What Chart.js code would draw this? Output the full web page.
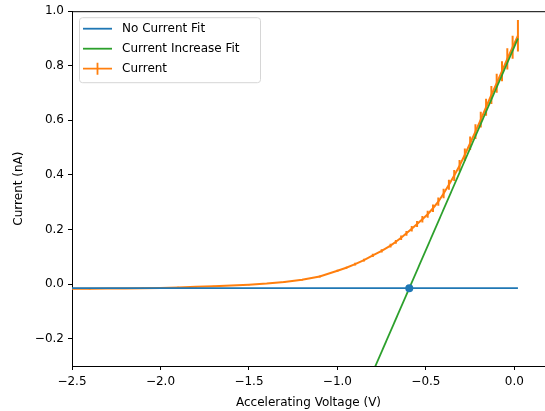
<!DOCTYPE html>
<html>
<head>
<meta charset="utf-8">
<title>Current vs Accelerating Voltage</title>
<script src="https://cdn.jsdelivr.net/npm/chart.js@4.4.0/dist/chart.umd.min.js"></script>
<style>
    html, body { margin: 0; padding: 0; background: #fff; }
    #wrap { width: 545px; height: 411px; }
</style>
</head>
<body>
<div id="wrap"><canvas id="ivChart" width="545" height="411"></canvas></div>
<script>
'use strict';

// Measured current (nA) against accelerating voltage (V), with error bars
const voltage = [
    -2.50, -2.40, -2.30, -2.20, -2.10, -2.00, -1.90, -1.80, -1.70, -1.60,
    -1.50, -1.40, -1.30, -1.20, -1.10, -1.00, -0.95, -0.90, -0.85, -0.80,
    -0.75, -0.70, -0.67, -0.64, -0.61, -0.58, -0.55, -0.52, -0.49, -0.46,
    -0.43, -0.40, -0.37, -0.34, -0.31, -0.28, -0.25, -0.22, -0.19, -0.16,
    -0.13, -0.10, -0.07, -0.04, -0.01, 0.02
];
const current = [
    -0.017, -0.017, -0.016, -0.016, -0.015, -0.014, -0.012, -0.010, -0.008, -0.005,
    -0.002, 0.002, 0.008, 0.016, 0.028, 0.049, 0.060, 0.073, 0.088, 0.105,
    0.122, 0.141, 0.155, 0.170, 0.186, 0.203, 0.220, 0.238, 0.256, 0.278,
    0.302, 0.332, 0.364, 0.398, 0.434, 0.474, 0.516, 0.559, 0.603, 0.648,
    0.693, 0.736, 0.780, 0.825, 0.868, 0.910
];
const currentErr = [
    0.002, 0.002, 0.002, 0.002, 0.002, 0.002, 0.002, 0.002, 0.002, 0.002,
    0.002, 0.002, 0.003, 0.003, 0.004, 0.004, 0.004, 0.005, 0.005, 0.006,
    0.006, 0.007, 0.007, 0.008, 0.009, 0.010, 0.011, 0.012, 0.013, 0.014,
    0.015, 0.017, 0.018, 0.020, 0.021, 0.023, 0.025, 0.027, 0.029, 0.031,
    0.033, 0.035, 0.037, 0.039, 0.042, 0.058
];

// Flat baseline fit and linear fit of the rising part
const noCurrentV = [-2.50, 0.02];
const noCurrentI = [-0.015, -0.015];
const increaseV = [-0.80, 0.02];
const increaseI = [-0.322, 0.900];

// Where the two fits cross
const crossingV = [-0.594];
const crossingI = [-0.015];

const xTicks = [-2.5, -2.0, -1.5, -1.0, -0.5, 0.0];
const yTicks = [-0.2, 0.0, 0.2, 0.4, 0.6, 0.8, 1.0];

const colors = {
    blue: '#1f77b4',
    orange: '#ff7f0e',
    green: '#2ca02c',
    text: '#000000'
};
const fontFamily = '"DejaVu Sans", "Liberation Sans", sans-serif';

function pairs(xs, ys) {
    return xs.map((x, i) => ({ x: x, y: ys[i] }));
}

// Vertical error segments, separated by gaps so the line breaks between them
function errorSegments() {
    const pts = [];
    voltage.forEach((v, i) => {
        pts.push({ x: v, y: current[i] - currentErr[i] });
        pts.push({ x: v, y: current[i] + currentErr[i] });
        pts.push({ x: v, y: null });
    });
    return pts;
}

function tickLabel(value) {
    const v = Math.abs(value) < 1e-9 ? 0 : value;
    return v.toFixed(1).replace('-', '\u2212');
}

/**
 * Top spine and boxed legend in the upper left corner
 */
const frameAndLegend = {
    id: 'frameAndLegend',
    afterDraw(chart) {
        const { ctx, chartArea: a } = chart;
        ctx.save();

        ctx.strokeStyle = '#000';
        ctx.lineWidth = 1;
        ctx.beginPath();
        ctx.moveTo(a.left, a.top + 0.5);
        ctx.lineTo(a.right, a.top + 0.5);
        ctx.stroke();

        const bx = a.left + 7.5, by = a.top + 6.5, bw = 181, bh = 65, r = 3;
        ctx.beginPath();
        ctx.moveTo(bx + r, by);
        ctx.arcTo(bx + bw, by, bx + bw, by + bh, r);
        ctx.arcTo(bx + bw, by + bh, bx, by + bh, r);
        ctx.arcTo(bx, by + bh, bx, by, r);
        ctx.arcTo(bx, by, bx + bw, by, r);
        ctx.closePath();
        ctx.fillStyle = 'rgba(255,255,255,0.8)';
        ctx.fill();
        ctx.strokeStyle = '#d6d6d6';
        ctx.stroke();

        const entries = [
            { label: 'No Current Fit', color: colors.blue, bar: false },
            { label: 'Current Increase Fit', color: colors.green, bar: false },
            { label: 'Current', color: colors.orange, bar: true }
        ];
        ctx.font = '12px ' + fontFamily;
        ctx.textBaseline = 'middle';
        entries.forEach((e, i) => {
            const y = a.top + 17.5 + i * 20;
            const x0 = a.left + 11, x1 = a.left + 40;
            ctx.strokeStyle = e.color;
            ctx.lineWidth = 1.8;
            ctx.beginPath();
            ctx.moveTo(x0, y);
            ctx.lineTo(x1, y);
            if (e.bar) {
                const xm = (x0 + x1) / 2;
                ctx.moveTo(xm, y - 6);
                ctx.lineTo(xm, y + 6);
            }
            ctx.stroke();
            ctx.fillStyle = colors.text;
            ctx.fillText(e.label, a.left + 50, y + 0.5);
        });

        ctx.restore();
    }
};

function initChart() {
    const ctx = document.getElementById('ivChart');

    new Chart(ctx, {
        type: 'line',
        data: {
            datasets: [{
                label: 'Crossing',
                data: pairs(crossingV, crossingI),
                showLine: false,
                pointRadius: 4,
                pointBackgroundColor: colors.blue,
                pointBorderWidth: 0,
                order: 0
            }, {
                label: 'Current Increase Fit',
                data: pairs(increaseV, increaseI),
                borderColor: colors.green,
                borderWidth: 1.8,
                pointRadius: 0,
                order: 1
            }, {
                label: 'No Current Fit',
                data: pairs(noCurrentV, noCurrentI),
                borderColor: colors.blue,
                borderWidth: 1.8,
                pointRadius: 0,
                order: 2
            }, {
                label: 'Current',
                data: pairs(voltage, current),
                borderColor: colors.orange,
                borderWidth: 2,
                pointRadius: 0,
                order: 3
            }, {
                label: 'Current error',
                data: errorSegments(),
                borderColor: colors.orange,
                borderWidth: 2,
                pointRadius: 0,
                spanGaps: false,
                order: 4
            }]
        },
        options: {
            responsive: false,
            animation: false,
            devicePixelRatio: 1,
            layout: {
                autoPadding: false,
                padding: { top: 11, left: 0, right: 0, bottom: 0 }
            },
            plugins: {
                legend: { display: false },
                tooltip: { enabled: false }
            },
            scales: {
                x: {
                    type: 'linear',
                    min: -2.5,
                    max: 0.173,
                    offset: false,
                    afterBuildTicks: s => { s.ticks = xTicks.map(v => ({ value: v })); },
                    afterFit: s => { s.height = 45; },
                    grid: {
                        drawOnChartArea: false,
                        drawTicks: true,
                        tickLength: 4,
                        tickColor: '#000',
                        offset: false
                    },
                    border: { display: true, color: '#000', width: 1 },
                    ticks: {
                        color: colors.text,
                        font: { family: fontFamily, size: 12 },
                        padding: 5,
                        maxRotation: 0,
                        autoSkip: false,
                        callback: tickLabel
                    },
                    title: {
                        display: true,
                        text: 'Accelerating Voltage (V)',
                        color: colors.text,
                        font: { family: fontFamily, size: 12 },
                        padding: { top: 0, bottom: 1 }
                    }
                },
                y: {
                    type: 'linear',
                    min: -0.3,
                    max: 1.0,
                    afterBuildTicks: s => { s.ticks = yTicks.map(v => ({ value: v })); },
                    afterFit: s => { s.width = 72; },
                    grid: {
                        drawOnChartArea: false,
                        drawTicks: true,
                        tickLength: 4,
                        tickColor: '#000'
                    },
                    border: { display: true, color: '#000', width: 1 },
                    ticks: {
                        color: colors.text,
                        font: { family: fontFamily, size: 12 },
                        padding: 4,
                        autoSkip: false,
                        callback: tickLabel
                    },
                    title: {
                        display: true,
                        text: 'Current (nA)',
                        color: colors.text,
                        font: { family: fontFamily, size: 12 },
                        padding: { top: 12, bottom: 0 }
                    }
                }
            }
        },
        plugins: [frameAndLegend]
    });
}

initChart();
</script>
</body>
</html>
